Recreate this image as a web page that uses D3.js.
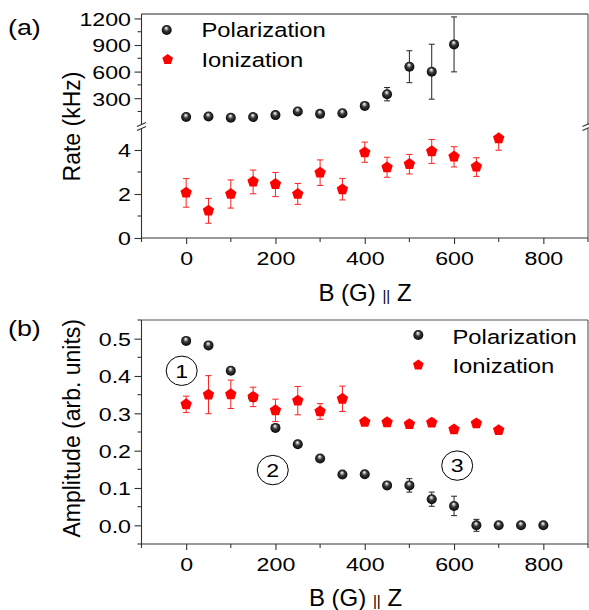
<!DOCTYPE html>
<html><head><meta charset="utf-8">
<script src="https://cdn.jsdelivr.net/npm/d3@7"></script>
<style>body{margin:0;background:#fff} svg{display:block} text{font-family:"Liberation Sans",Arial,Helvetica,sans-serif;fill:#000}</style>
</head><body><svg id="c" width="589" height="610"></svg>
<script>
// ---------- data ----------
const fieldPolRate = [0,50,100,150,200,250,300,350,400,450,500,550,600];
const ratePol      = [87,93,79,87,109,150,123,131,213,345,655,599,907];
const ratePolErr   = [0,0,0,0,0,0,0,0,0,75,180,310,310];

const fieldIon   = [0,50,100,150,200,250,300,350,400,450,500,550,600,650,700];
const rateIon    = [2.06,1.24,2.00,2.56,2.45,2.00,2.97,2.21,3.89,3.21,3.36,3.94,3.70,3.24,4.53];
const rateIonHi  = [2.70,1.80,2.64,3.09,2.98,2.48,3.55,2.71,4.36,3.67,3.80,4.48,4.15,3.65,4.53];
const rateIonLo  = [1.40,0.67,1.36,2.01,1.88,1.53,2.39,1.73,3.44,2.76,2.91,3.39,3.23,2.80,3.99];

const fieldPolAmp = [0,50,100,150,200,250,300,350,400,450,500,550,600,650,700,750,800];
const ampPol      = [0.494,0.482,0.414,0.343,0.261,0.217,0.179,0.136,0.137,0.107,0.107,0.070,0.052,0.000,0.000,0.000,0.000];
const ampPolErr   = [0,0,0,0,0,0,0,0,0,0,0.018,0.019,0.026,0.016,0,0,0];

const ampIon    = [0.324,0.350,0.351,0.344,0.308,0.334,0.305,0.339,0.277,0.276,0.271,0.275,0.257,0.273,0.255];
const ampIonErr = [0.022,0.051,0.038,0.026,0.030,0.038,0.021,0.034,0.008,0.010,0.010,0.010,0.008,0.010,0.005];

const xTicks = [0,200,400,600,800];
const xMinor = [-100,100,300,500,700,900];
const rateTicksHigh = [300,600,900,1200];
const rateMinorHigh = [150,450,750,1050];
const rateTicksLow  = [0,2,4];
const rateMinorLow  = [1,3];
const ampTicks = [0,0.1,0.2,0.3,0.4,0.5];
const ampMinor = [-0.05,0.05,0.15,0.25,0.35,0.45,0.55];

const seriesNames = ["Polarization","Ionization"];
const annotations = [{label:"1", x:-10, y:0.414},{label:"2", x:194, y:0.148},{label:"3", x:607, y:0.160}];

// ---------- layout ----------
const X0 = 141.5, X1 = 588;
const SX = 1.22;             // horizontal stretch of the small text
const AX = "#333";
const FONT = '"Liberation Sans",Arial,Helvetica,sans-serif';
const svg = d3.select("#c");

const defs = svg.append("defs");
const gr = defs.append("radialGradient").attr("id","sph")
  .attr("cx","0.5").attr("cy","0.5").attr("r","0.55").attr("fx","0.45").attr("fy","0.28");
[[0,"#ffffff"],[0.18,"#bdbdbd"],[0.45,"#3a3a3a"],[1,"#000"]].forEach(([o,c])=>
  gr.append("stop").attr("offset",o).attr("stop-color",c));

const x = d3.scaleLinear().domain([-100,900]).range([X0,X1]);
// panel a
const A_TOP = 14, A_BOT = 238, BRK_HI = 124.5, BRK_LO = 128.5;
const yHigh = d3.scaleLinear().domain([20,1250]).range([123,A_TOP]);
const yLow  = d3.scaleLinear().domain([0,5]).range([A_BOT,128]);
// panel b
const B_TOP = 320, B_BOT = 544;
const yAmp = d3.scaleLinear().domain([-0.05,0.55]).range([B_BOT,B_TOP]);

function pentPath(r){
  const p = d3.path();
  for(let i=0;i<5;i++){
    const a = -Math.PI/2 + i*2*Math.PI/5;
    const px = r*Math.cos(a), py = r*Math.sin(a);
    if(i===0) p.moveTo(px,py); else p.lineTo(px,py);
  }
  p.closePath(); return p.toString();
}

function line(g,x1,y1,x2,y2,col,w){
  g.append("line").attr("x1",x1).attr("y1",y1).attr("x2",x2).attr("y2",y2)
   .attr("stroke",col||AX).attr("stroke-width",w||1.1);
}

function leftAxis(scale, major, minor, fmt){
  const a = svg.append("g").attr("transform",`translate(${X0},0)`);
  a.call(d3.axisLeft(scale).tickValues(major).tickSize(7).tickSizeOuter(0).tickPadding(3).tickFormat(fmt));
  a.attr("font-size",19).attr("font-family",FONT);
  a.select(".domain").remove();
  a.selectAll(".tick line").attr("stroke",AX).attr("stroke-width",1.1);
  a.selectAll(".tick text").attr("fill","#000").attr("x",-10.5/SX).attr("dy","0.36em").attr("transform",`scale(${SX},1)`);
  a.selectAll(".minor").data(minor).join("line").attr("class","minor")
    .attr("x1",-4).attr("x2",0).attr("y1",d=>scale(d)).attr("y2",d=>scale(d))
    .attr("stroke",AX).attr("stroke-width",1.1);
}

function bottomAxis(yPos){
  const a = svg.append("g").attr("transform",`translate(0,${yPos})`);
  a.call(d3.axisBottom(x).tickValues(xTicks).tickSize(6).tickSizeOuter(0).tickFormat(d=>d));
  a.attr("font-size",19).attr("font-family",FONT);
  a.select(".domain").remove();
  a.selectAll(".tick line").attr("stroke",AX).attr("stroke-width",1.1);
  a.selectAll(".tick text").attr("fill","#000").attr("y",27).attr("dy",0).attr("transform",`scale(${SX},1)`);
  a.selectAll(".minor").data(xMinor).join("line").attr("class","minor")
    .attr("x1",d=>x(d)).attr("x2",d=>x(d)).attr("y1",0).attr("y2",4)
    .attr("stroke",AX).attr("stroke-width",1.1);
}

function stretchedText(tx,ty,str,size,anchor){
  return svg.append("text").attr("transform",`translate(${tx},${ty}) scale(${SX},1)`)
    .attr("font-size",size).attr("text-anchor",anchor||"start").text(str);
}

function breakMark(cx){
  line(svg,cx-4.5,126.5,cx+4.5,122.5,AX,1.1);
  line(svg,cx-4.5,130.5,cx+4.5,126.5,AX,1.1);
}

function errBars(g, xs, ys, lo, hi, yS, col, cap){
  xs.forEach((xv,i)=>{
    if(hi[i]===ys[i] && lo[i]===ys[i]) return;
    const px = x(xv);
    line(g,px,yS(lo[i]),px,yS(hi[i]),col,1);
    if(hi[i]!==ys[i]) line(g,px-cap,yS(hi[i]),px+cap,yS(hi[i]),col,1);
    if(lo[i]!==ys[i]) line(g,px-cap,yS(lo[i]),px+cap,yS(lo[i]),col,1);
  });
}

function spheres(g, xs, ys, yS){
  g.selectAll(null).data(xs).join("circle")
   .attr("cx",d=>x(d)).attr("cy",(d,i)=>yS(ys[i])).attr("r",5).attr("fill","url(#sph)");
}
function pents(g, xs, ys, yS){
  g.selectAll(null).data(xs).join("path")
   .attr("transform",(d,i)=>`translate(${x(d)},${yS(ys[i])})`)
   .attr("d",pentPath(6)).attr("fill","#ff0000");
}

// ---------- panel (a) ----------
line(svg,X0,A_TOP,X1,A_TOP,"#222",1.1);
line(svg,X0,A_BOT,X1,A_BOT,AX,1.1);
line(svg,X0,A_TOP,X0,BRK_HI,AX,1.1); line(svg,X0,BRK_LO,X0,A_BOT,AX,1.1);
line(svg,X1,A_TOP,X1,BRK_HI,"#555",1.1); line(svg,X1,BRK_LO,X1,A_BOT,"#555",1.1);
breakMark(X0); breakMark(X1-1);
leftAxis(yHigh, rateTicksHigh, rateMinorHigh, d=>d);
leftAxis(yLow, rateTicksLow, rateMinorLow, d=>d);
bottomAxis(A_BOT);

const ga = svg.append("g");
errBars(ga, fieldPolRate, ratePol, ratePol.map((v,i)=>v-ratePolErr[i]), ratePol.map((v,i)=>v+ratePolErr[i]), yHigh, "#222", 3);
errBars(ga, fieldIon, rateIon, rateIonLo, rateIonHi, yLow, "#ff2020", 3.2);
spheres(ga, fieldPolRate, ratePol, yHigh);
pents(ga, fieldIon, rateIon, yLow);

// legend (a)
svg.append("circle").attr("cx",166.7).attr("cy",30).attr("r",5).attr("fill","url(#sph)");
svg.append("path").attr("transform","translate(167.7,59.5)").attr("d",pentPath(5.6)).attr("fill","#ff0000");
stretchedText(201.5,36.8,seriesNames[0],19.5);
stretchedText(201.5,66.5,seriesNames[1],19.5);

stretchedText(8,35,"(a)",22);
svg.append("text").attr("transform","translate(79.5,126.5) rotate(-90)")
  .attr("text-anchor","middle").attr("font-size",23).text("Rate (kHz)");

function xTitle(cx, by){
  const t = svg.append("text").attr("x",cx).attr("y",by).attr("text-anchor","middle").attr("font-size",24);
  t.append("tspan").text("B (G) ");
  t.append("tspan").attr("font-size",15).text("||");
  t.append("tspan").text(" Z");
}
xTitle(365, 301);

// ---------- panel (b) ----------
line(svg,X0,B_TOP,X1,B_TOP,"#555",1.1);
line(svg,X1,B_TOP,X1,B_BOT,"#555",1.1);
line(svg,X0,B_TOP,X0,B_BOT,AX,1.1);
line(svg,X0,B_BOT,X1,B_BOT,AX,1.1);
leftAxis(yAmp, ampTicks, ampMinor, d3.format(".1f"));
bottomAxis(B_BOT);

const gb = svg.append("g");
errBars(gb, fieldPolAmp, ampPol, ampPol.map((v,i)=>v-ampPolErr[i]), ampPol.map((v,i)=>v+ampPolErr[i]), yAmp, "#222", 3);
errBars(gb, fieldIon, ampIon, ampIon.map((v,i)=>v-ampIonErr[i]), ampIon.map((v,i)=>v+ampIonErr[i]), yAmp, "#ff2020", 3.2);
spheres(gb, fieldPolAmp, ampPol, yAmp);
pents(gb, fieldIon, ampIon, yAmp);

annotations.forEach(a=>{
  svg.append("ellipse").attr("cx",x(a.x)).attr("cy",yAmp(a.y)).attr("rx",15.5).attr("ry",14.7)
    .attr("fill","none").attr("stroke","#000").attr("stroke-width",1);
  stretchedText(x(a.x),yAmp(a.y)+6.8,a.label,19,"middle");
});

// legend (b)
svg.append("circle").attr("cx",418.3).attr("cy",335).attr("r",5).attr("fill","url(#sph)");
svg.append("path").attr("transform","translate(418.3,365)").attr("d",pentPath(5.6)).attr("fill","#ff0000");
stretchedText(452.5,344.3,seriesNames[0],19.5);
stretchedText(452.5,373.3,seriesNames[1],19.5);

stretchedText(8,336,"(b)",22);
svg.append("text").attr("transform","translate(79.5,428.3) rotate(-90)")
  .attr("text-anchor","middle").attr("font-size",23).text("Amplitude (arb. units)");
xTitle(355.5, 606);
</script></body></html>
